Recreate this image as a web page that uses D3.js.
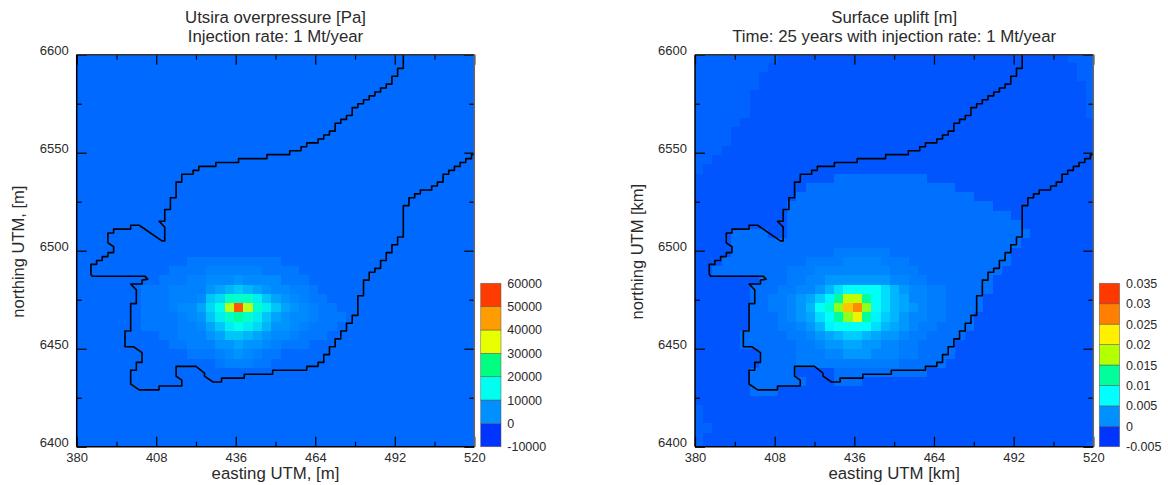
<!DOCTYPE html>
<html>
<head>
<meta charset="utf-8">
<script src="https://cdn.jsdelivr.net/npm/d3@7"></script>
<style>
html,body{margin:0;padding:0;background:#fff;}
svg{display:block;}
text{font-family:"Liberation Sans",Arial,sans-serif;fill:#2a2a2a;}
</style>
</head>
<body>
<svg id="chart" width="1168" height="485"></svg>
<script>
// ---------- data ----------
const eastingMajor = [380,408,436,464,492,520];
const eastingMinor = [394,422,450,478,506];
const northingMajor = [6400,6450,6500,6550,6600];
const northingMinor = [6425,6475,6525,6575];

const gridWest = 379.54, gridNorth = 6600.74, gridDx = 3.285, gridDy = 4.72;

const pressureBands = [-10000,0,10000,20000,30000,40000,50000,60000];
const pressureColors = ["#0034ff","#0090ff","#00fff0","#00ff80","#e8ff00","#ff9c00","#ff3c00"];
const pressureTickLabels = ["-10000","0","10000","20000","30000","40000","50000","60000"];
const pressureCodes = {".":800,a:2400,b:3400,c:4400,d:5400,e:6800,f:8300,g:9800,h:11500,i:13500,j:15500,k:18500,l:22000,m:33000,o:52000};
const pressureRows = [
"","","","","","","","","","","","","","","","","","","","","","",
"............aaaaaaaaaa",
"..........aaaabbbbbbaaaa",
".........aaabbcccdccccaaa",
".......aaabbbbdefgfedccbba",
".......aaabbbcghkkkigedcbaa",
".......aaabccehjmomkigedcbaa",
".......aaaabcdgiklkigedccbaaa",
".......aaaabbcegijihfddcbaaa",
".........aabbbdeggfedccbaaa",
"..........aabbbddeddcbaaa",
"............aaabcdcbaa",
"...............abbbaa",
"","","","","","","","",""
];

const upliftBands = [-0.005,0,0.005,0.01,0.015,0.02,0.025,0.03,0.035];
const upliftColors = ["#0034ff","#0090ff","#00ffff","#00ff9c","#b4ff00","#fff000","#ff8000","#ff3800"];
const upliftTickLabels = ["-0.005","0","0.005","0.01","0.015","0.02","0.025","0.03","0.035"];
const upliftCodes = {".":-0.0007,"-":0.0001,a:0.0007,b:0.0014,c:0.002,d:0.0028,e:0.0035,f:0.0042,g:0.0052,h:0.006,i:0.007,j:0.0078,k:0.01,l:0.0125,n:0.0165,o:0.0185,p:0.0215,q:0.0245,r:0.027};
const upliftRows = [
"---------...............................---",
"--------.................................--",
"-------..................................--",
"-------...................................-",
"------....................................-",
"------....................................-",
"------....................................-",
"-----",
"----",
"----",
"---",
"--",
"-",
"...............aaaaaaaaaa",
"............aaaaaaaaaaaaaaaa",
"...........aaaaaaaaaaaaaaaaaaa",
"..........aaaaaaaaaaaaaaaaaaaaaa",
"..........aaaaaaaaaaaaaaaaaaaaaaaa",
"..........aaaaaaaaaaaaaaaaaaaaaaaaa",
"....aaaa..aaaaaaaaaaaaaaaaaaaaaaaaaa",
"....aaaaaaaaaaaaaaaaaaaaaaaaaaaaaaa",
"....aaaaaaaaaaabbbbbbaaaaaaaaaaaaa",
"...aaaaaaaaabbbbccccbbbaaaaaaaaaaa",
"..aaaaaaaabbbccccccccbbbaaaaaaaaa",
".......aaabbccdddddddccbbaaaaaaa",
"......aaabbccdfhjjjjhfdccbbaaaaa",
"......aabbcdegilooljhfeccbbaaaa",
"......aabbcdfjknqrnjhfedcbbaaaa",
"......aaabcdehjlnpligfdccbbaaa",
"......aaabbcdfijjjjhfedcbbaaaa",
".....aaaaabbcdefggfeddcbbaaaa",
".....aaaaaabbcddeeddccbbaaaa",
".......aaaabbbccdddcccbbaaaa",
".......aaaabbbbbbbbbbbaaaaa",
"......aaaaa....aaaaaaaaaa",
"......aaaaaa...aaa",
"......aaa",
"",
"-",
"-",
"--",
"-",
"-.........................................-"
];

const boundary = [[495,6600],[495,6593],[493,6593],[493,6589],[491,6589],[491,6585],[489,6585],[489,6583],[487,6583],[487,6581],[485,6581],[485,6579],[483,6579],[483,6577],[481,6577],[481,6575],[479,6575],[479,6573],[477,6573],[477,6569],[475,6569],[475,6567],[473,6567],[473,6565],[471,6565],[471,6561],[469,6561],[469,6559],[467,6559],[467,6557],[465,6557],[465,6555],[461,6555],[461,6553],[459,6553],[459,6551],[455,6551],[455,6549],[447,6549],[447,6547],[437,6547],[437,6545],[429,6545],[429,6543],[423,6543],[423,6541],[421,6541],[421,6539],[417,6539],[417,6535],[415,6535],[415,6527],[413,6527],[413,6521],[411,6521],[411,6515],[409,6515],[411,6512],[411,6505],[410,6505],[402,6513],[399,6513],[399,6511],[393,6511],[393,6509],[391,6509],[391,6504],[393,6502],[393,6499],[391,6499],[391,6497],[389,6497],[389,6495],[387,6495],[387,6493],[385,6493],[385,6488],[385.5,6487],[404,6487],[405,6485.5],[403,6485],[403,6483],[399,6483],[401,6480],[401,6473],[399,6473],[399,6459],[397,6459],[397,6451],[400,6451],[403,6448],[403,6443],[401,6443],[401,6439],[399,6439],[399,6432],[402,6429],[409,6429],[409,6431],[417,6431],[417,6434],[415,6436],[415,6441],[422,6441],[425,6437.5],[425,6436],[428,6433],[431,6433],[431,6435],[439,6435],[439,6437],[449,6437],[449,6439],[461,6439],[461,6441],[465,6441],[465,6443],[467,6443],[467,6447],[469,6447],[469,6451],[471,6451],[471,6455],[473,6455],[473,6459],[475,6459],[475,6463],[477,6463],[477,6467],[479,6467],[479,6477],[481,6477],[481,6485],[483,6485],[483,6489],[485,6489],[485,6491],[487,6491],[487,6495],[489,6495],[489,6499],[491,6499],[491,6503],[493,6503],[493,6507],[495,6507],[495,6523],[497,6523],[497,6527],[499,6527],[499,6529],[501,6529],[501,6531],[505,6531],[505,6533],[507,6533],[507,6535],[509,6535],[509,6539],[511,6539],[511,6541],[513,6541],[513,6543],[515,6543],[515,6545],[517,6545],[517,6547],[519,6547],[519,6549],[520,6549]];

const panels = [
 {id:"a",left:76.7,right:474.3,bandX:480.7,labelX:507.3,
  title:["Utsira overpressure [Pa]","Injection rate: 1 Mt/year"],xTitle:"easting UTM, [m]",yTitle:"northing UTM, [m]",yTitleX:19,
  rows:pressureRows,codes:pressureCodes,bands:pressureBands,colors:pressureColors,labels:pressureTickLabels},
 {id:"b",left:695,right:1093.3,bandX:1099.3,labelX:1126,
  title:["Surface uplift [m]","Time: 25 years with injection rate: 1 Mt/year"],xTitle:"easting UTM [km]",yTitle:"northing UTM [km]",yTitleX:638,
  rows:upliftRows,codes:upliftCodes,bands:upliftBands,colors:upliftColors,labels:upliftTickLabels}
];

// ---------- drawing ----------
const svg = d3.select("#chart");
const plotTop = 54.7, plotBottom = 446.7, barTop = 283.3, barWidth = 20.3;
const defs = svg.append("defs");
defs.append("filter").attr("id","soft")
  .attr("x",0).attr("y",0).attr("width",1).attr("height",1)
  .append("feGaussianBlur").attr("stdDeviation",0.45);

panels.forEach(p => {
  const x = d3.scaleLinear().domain([380,520]).range([p.left,p.right]);
  const y = d3.scaleLinear().domain([6400,6600]).range([plotBottom,plotTop]);
  const mids = d3.pairs(p.bands).map(([a,b]) => (a+b)/2);
  const color = d3.scaleLinear().domain(mids).range(p.colors).clamp(true);

  defs.append("clipPath").attr("id","clip-"+p.id).append("rect")
    .attr("x",p.left).attr("y",plotTop).attr("width",p.right-p.left).attr("height",plotBottom-plotTop);

  const g = svg.append("g");
  const cells = [];
  for (let j=0;j<43;j++){
    const row = (p.rows[j]||"").padEnd(43,".");
    for (let i=0;i<43;i++) cells.push({i,j,v:p.codes[row[i]]});
  }
  g.append("g").attr("clip-path",`url(#clip-${p.id})`)
   .append("g").attr("filter","url(#soft)")
   .selectAll("rect").data(cells).join("rect")
    .attr("shape-rendering","crispEdges")
    .attr("x",d=>x(gridWest+d.i*gridDx))
    .attr("y",d=>y(gridNorth-d.j*gridDy))
    .attr("width",x(gridDx)-x(0)+1)
    .attr("height",y(0)-y(gridDy)+1)
    .attr("fill",d=>color(d.v));

  const line = d3.line().x(d=>x(d[0])).y(d=>y(d[1]));
  g.append("g").attr("clip-path",`url(#clip-${p.id})`)
   .append("path").datum(boundary).attr("d",line)
    .attr("fill","none").attr("stroke","#000").attr("stroke-width",1.6).attr("stroke-linejoin","round");

  // ticks, drawn by d3 axes and pointing inwards
  const style = (sel) => {
    sel.select(".domain").remove();
    sel.selectAll(".tick line").attr("stroke","#000").attr("stroke-width",1.2);
    sel.selectAll(".tick text").attr("fill","#2a2a2a").attr("font-size",13);
  };
  const bx = g.append("g").attr("transform",`translate(0,${plotBottom})`)
    .call(d3.axisBottom(x).tickValues(eastingMajor).tickSize(-10).tickPadding(5)).call(style);
  bx.selectAll(".tick text").attr("y",6).attr("dy","0.71em");
  g.append("g").attr("transform",`translate(0,${plotBottom})`)
    .call(d3.axisBottom(x).tickValues(eastingMinor).tickSize(-5).tickFormat("")).call(style);
  g.append("g").attr("transform",`translate(0,${plotTop})`)
    .call(d3.axisTop(x).tickValues(eastingMajor).tickSize(-10).tickFormat("")).call(style);
  g.append("g").attr("transform",`translate(0,${plotTop})`)
    .call(d3.axisTop(x).tickValues(eastingMinor).tickSize(-5).tickFormat("")).call(style);
  const ly = g.append("g").attr("transform",`translate(${p.left},0)`)
    .call(d3.axisLeft(y).tickValues(northingMajor).tickSize(-10).tickFormat(d3.format("d"))).call(style);
  ly.selectAll(".tick text").attr("x",-8).attr("dy","-0.02em");
  g.append("g").attr("transform",`translate(${p.left},0)`)
    .call(d3.axisLeft(y).tickValues(northingMinor).tickSize(-5).tickFormat("")).call(style);
  g.append("g").attr("transform",`translate(${p.right},0)`)
    .call(d3.axisRight(y).tickValues(northingMajor).tickSize(-10).tickFormat("")).call(style);
  g.append("g").attr("transform",`translate(${p.right},0)`)
    .call(d3.axisRight(y).tickValues(northingMinor).tickSize(-5).tickFormat("")).call(style);

  // frame
  const frame = (x1,y1,x2,y2,c) => g.append("line").attr("x1",x1).attr("y1",y1).attr("x2",x2).attr("y2",y2)
      .attr("stroke",c).attr("stroke-width",1.5);
  frame(p.left,plotTop,p.right,plotTop,"#333");
  frame(p.right,plotTop,p.right,plotBottom,"#666");
  frame(p.left,plotTop,p.left,plotBottom,"#000");
  frame(p.left,plotBottom,p.right,plotBottom,"#000");

  // titles
  const cx = (p.left+p.right)/2;
  p.title.forEach((t,k)=> g.append("text").attr("x",cx).attr("y",22.5+k*19).attr("text-anchor","middle").attr("font-size",16.8).text(t));
  g.append("text").attr("x",cx).attr("y",479).attr("text-anchor","middle").attr("font-size",16.8).text(p.xTitle);
  g.append("text").attr("transform",`translate(${p.yTitleX+5},${(plotTop+plotBottom)/2+1}) rotate(-90)`).attr("text-anchor","middle").attr("font-size",16.5).text(p.yTitle);

  // colour bar
  const bar = d3.scaleLinear().domain([p.bands[0],p.bands[p.bands.length-1]]).range([plotBottom,barTop]);
  g.append("g").selectAll("rect").data(d3.pairs(p.bands)).join("rect")
    .attr("x",p.bandX).attr("y",d=>bar(d[1])).attr("width",barWidth).attr("height",d=>bar(d[0])-bar(d[1]))
    .attr("fill",(d,k)=>p.colors[k]).attr("stroke","#555").attr("stroke-opacity",0.7).attr("stroke-width",0.7);
  g.append("g").selectAll("text").data(p.bands).join("text")
    .attr("x",p.labelX).attr("y",d=>bar(d)).attr("dy","0.36em").attr("font-size",12.5)
    .text((d,k)=>p.labels[k]);
});
</script>
</body>
</html>
